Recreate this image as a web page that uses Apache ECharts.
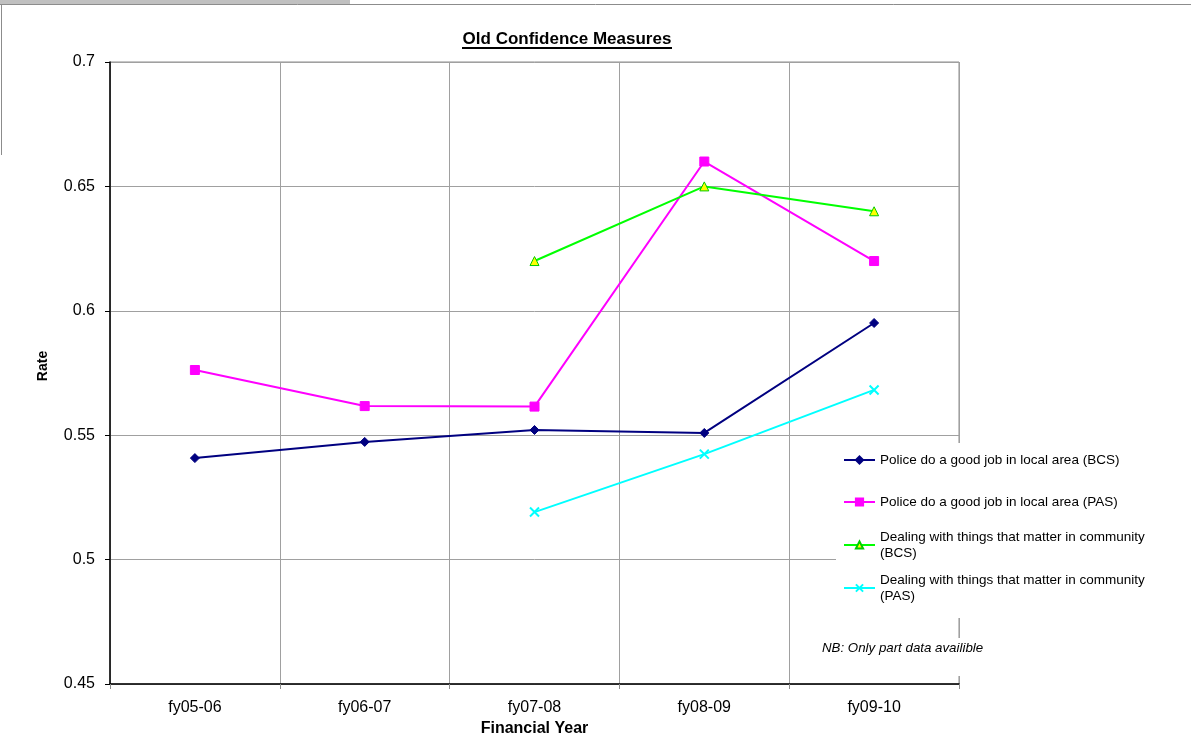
<!DOCTYPE html>
<html>
<head>
<meta charset="utf-8">
<script src="https://cdn.jsdelivr.net/npm/echarts@6/dist/echarts.min.js"></script>
<style>
  html, body { margin: 0; padding: 0; background: #fff; }
  #chart { width: 1191px; height: 751px; }
</style>
</head>
<body>
<div id="chart"></div>
<script>
// Financial years on the x axis
var years = ['fy05-06', 'fy06-07', 'fy07-08', 'fy08-09', 'fy09-10'];

// Confidence rates per series (null = no survey data for that year)
var policeBCS = [0.5408, 0.5473, 0.5521, 0.5509, 0.5951];
var policePAS = [0.5762, 0.5617, 0.5615, 0.66, 0.62];
var dealingBCS = [null, null, 0.62, 0.65, 0.64];
var dealingPAS = [null, null, 0.5191, 0.5424, 0.5682];

var seriesNames = [
  'Police do a good job in local area (BCS)',
  'Police do a good job in local area (PAS)',
  'Dealing with things that matter in community\n(BCS)',
  'Dealing with things that matter in community\n(PAS)'
];

var yTicks = { min: 0.45, max: 0.7, step: 0.05 };

var FONT = 'Liberation Sans, Arial, sans-serif';
var chart = echarts.init(document.getElementById('chart'), null, { renderer: 'canvas' });

function legendAt(name, top, twoLine) {
  return {
    data: [name],
    left: 843,
    top: top,
    orient: 'vertical',
    padding: 0,
    itemWidth: 31,
    itemHeight: 9,
    itemGap: 0,
    selectedMode: false,
    textStyle: {
      fontFamily: FONT,
      fontSize: 13.5,
      color: '#000',
      lineHeight: 16,
      padding: twoLine ? [16, 0, 0, 0] : 0
    }
  };
}

var option = {
  backgroundColor: '#fff',
  animation: false,
  grid: {
    left: 110, top: 62, right: 232, bottom: 67,
    show: true, borderColor: '#8c8c8c', borderWidth: 1,
    containLabel: false
  },
  legend: [
    legendAt(seriesNames[0], 452, false),
    legendAt(seriesNames[1], 494, false),
    legendAt(seriesNames[2], 521, true),
    legendAt(seriesNames[3], 564, true)
  ],
  graphic: [
    // chart frame remnants along the top and left
    { type: 'rect', shape: { x: 0, y: 0, width: 350, height: 4 }, style: { fill: '#c0c0c0' }, silent: true },
    { type: 'line', shape: { x1: 0, y1: 4.5, x2: 1191, y2: 4.5 }, style: { stroke: '#8c8c8c', lineWidth: 1 }, silent: true },
    { type: 'line', shape: { x1: 1.5, y1: 4, x2: 1.5, y2: 155 }, style: { stroke: '#8c8c8c', lineWidth: 1 }, silent: true },
    // white boxes behind legend and note
    { type: 'rect', z: 3, shape: { x: 836, y: 443, width: 355, height: 175 }, style: { fill: '#fff' }, silent: true },
    { type: 'rect', z: 3, shape: { x: 815, y: 638, width: 180, height: 38 }, style: { fill: '#fff' }, silent: true },
    {
      type: 'text', z: 5, left: 822, top: 642,
      style: { text: 'NB: Only part data availible', fontFamily: FONT, fontSize: 13.3, fontStyle: 'italic', fill: '#000' }
    },
    // title
    {
      type: 'text', z: 5, x: 567, y: 39,
      style: { text: 'Old Confidence Measures', fontFamily: FONT, fontSize: 17, fontWeight: 'bold', fill: '#000', align: 'center', verticalAlign: 'middle' }
    },
    { type: 'line', z: 5, shape: { x1: 462, y1: 48, x2: 672, y2: 48 }, style: { stroke: '#000', lineWidth: 2 }, silent: true },
    // y axis title
    {
      type: 'text', z: 5, x: 43, y: 366, rotation: Math.PI / 2,
      style: { text: 'Rate', fontFamily: FONT, fontSize: 14, fontWeight: 'bold', fill: '#000', align: 'center', verticalAlign: 'middle' }
    }
  ],
  xAxis: {
    type: 'category',
    data: years,
    boundaryGap: true,
    name: 'Financial Year',
    nameLocation: 'middle',
    nameGap: 33,
    nameTextStyle: { fontFamily: FONT, fontSize: 16, fontWeight: 'bold', color: '#000' },
    axisLine: { lineStyle: { color: '#000', width: 1.5 } },
    axisTick: { show: true, length: 5, inside: false, lineStyle: { color: '#8c8c8c' } },
    axisLabel: { fontFamily: FONT, fontSize: 16, color: '#000', margin: 16 },
    splitLine: { show: true, lineStyle: { color: '#a0a0a0', width: 1 } }
  },
  yAxis: {
    type: 'value',
    min: yTicks.min,
    max: yTicks.max,
    interval: yTicks.step,
    axisLine: { show: true, lineStyle: { color: '#000', width: 1.5 } },
    axisTick: { show: true, length: 5, lineStyle: { color: '#000' } },
    axisLabel: {
      fontFamily: FONT, fontSize: 16, color: '#000', margin: 15,
      formatter: function (v) { return String(+v.toFixed(2)); }
    },
    splitLine: { show: true, lineStyle: { color: '#a0a0a0', width: 1 } }
  },
  series: [
    {
      name: seriesNames[0], type: 'line', data: policeBCS,
      symbol: 'diamond', symbolSize: 9,
      lineStyle: { color: '#000080', width: 2 },
      itemStyle: { color: '#000080', borderColor: '#000080', borderWidth: 1 }
    },
    {
      name: seriesNames[1], type: 'line', data: policePAS,
      symbol: 'rect', symbolSize: 9,
      lineStyle: { color: '#ff00ff', width: 2 },
      itemStyle: { color: '#ff00ff', borderColor: '#ff00ff', borderWidth: 1 }
    },
    {
      name: seriesNames[2], type: 'line', data: dealingBCS,
      symbol: 'triangle', symbolSize: 9,
      lineStyle: { color: '#00ff00', width: 2 },
      itemStyle: { color: '#ffff00', borderColor: '#00cc00', borderWidth: 1 }
    },
    {
      name: seriesNames[3], type: 'line', data: dealingPAS,
      symbol: 'path://M0,0L10,10M10,0L0,10', symbolSize: 9,
      lineStyle: { color: '#00ffff', width: 2 },
      itemStyle: { color: 'rgba(0,0,0,0)', borderColor: '#00ffff', borderWidth: 2 }
    }
  ]
};

chart.setOption(option);
</script>
</body>
</html>
